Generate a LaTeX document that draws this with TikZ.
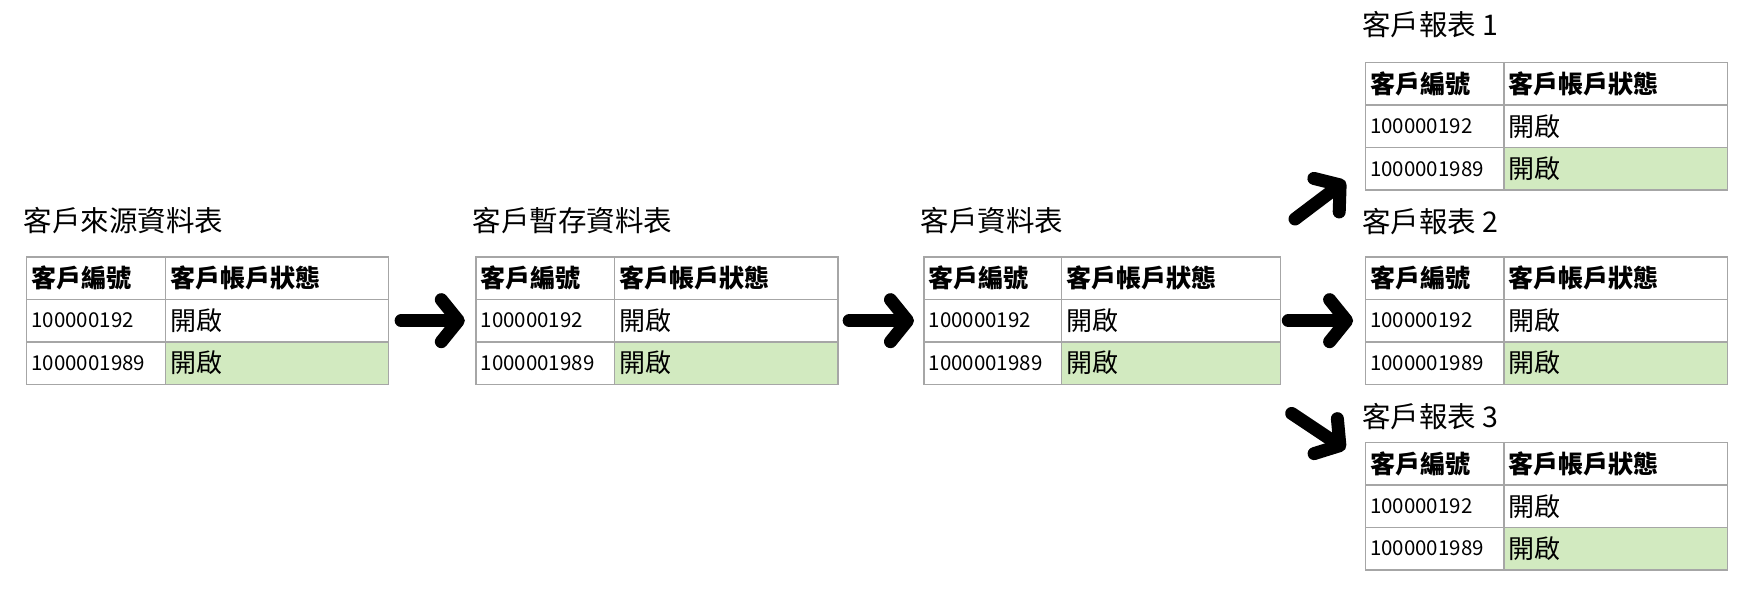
\documentclass[tikz,border=0pt]{standalone}
\usepackage{fontspec}
\setmainfont{Noto Sans CJK TC}
\usetikzlibrary{arrows.meta}
\definecolor{lgreen}{RGB}{210,234,192}
\tikzset{
 cell/.style={draw=black!35,line width=1.3pt},
 hl/.style={fill=lgreen},
 hdr/.style={anchor=west,font=\fontsize{25}{27}\selectfont\bfseries},
 num/.style={anchor=west,font=\fontsize{20.5}{22}\selectfont},
 dat/.style={anchor=west,font=\fontsize{26}{28}\selectfont},
 ttl/.style={anchor=west,font=\fontsize{28.5}{31}\selectfont},
 arr/.style={line width=13pt,line cap=round,-{Straight Barb[length=17pt,width=42pt,line cap=round,round]}}
}
\newcommand{\mytable}[5]{% name, left x, split x, right x, top y
 \fill[hl] (#3,#5+76) rectangle (#4,#5+114);
 \draw[cell] (#2,#5) rectangle (#4,#5+114);
 \draw[cell] (#2,#5+38) -- (#4,#5+38) (#2,#5+76) -- (#4,#5+76) (#3,#5) -- (#3,#5+114);
 \node[hdr] (#1h1) at (#2+1,#5+19) {客戶編號};
 \node[hdr] (#1h2) at (#3+1,#5+19) {客戶帳戶狀態};
 \node[num] (#1a1) at (#2+1,#5+57) {100000192};
 \node[dat] (#1a2) at (#3+1,#5+57) {開啟};
 \node[num] (#1b1) at (#2+1,#5+95) {1000001989};
 \node[dat] (#1b2) at (#3+1,#5+95) {開啟};
}
\begin{document}
\begin{tikzpicture}[x=1.1173pt,y=-1.1173pt]
\useasboundingbox (0,0) rectangle (1568,530);
\fill[white] (0,0) rectangle (1568,530);
\mytable{A}{24}{148}{348}{230}
\mytable{B}{426}{550}{750}{230}
\mytable{C}{827}{950}{1146}{230}
\mytable{R}{1222}{1346}{1546}{56}
\mytable{S}{1222}{1346}{1546}{230}
\mytable{T}{1222}{1346}{1546}{396}
\node[ttl] (tA) at (18,197) {客戶來源資料表};
\node[ttl] (tB) at (420,197) {客戶暫存資料表};
\node[ttl] (tC) at (821,197) {客戶資料表};
\node[ttl] (tR) at (1216,22) {客戶報表 1};
\node[ttl] (tS) at (1216,198) {客戶報表 2};
\node[ttl] (tT) at (1216,373) {客戶報表 3};
\coordinate (a1) at (359,287); \coordinate (a2) at (416,287);
\coordinate (b1) at (760,287); \coordinate (b2) at (818,287);
\coordinate (c1) at (1153,287); \coordinate (c2) at (1211,287);
\coordinate (d1) at (1159,196); \coordinate (d2) at (1204,162);
\coordinate (e1) at (1156,370); \coordinate (e2) at (1204,402);
\foreach \p/\q in {a1/a2,b1/b2,c1/c2,d1/d2,e1/e2} \draw[arr] (\p) -- (\q);
\end{tikzpicture}
\end{document}
